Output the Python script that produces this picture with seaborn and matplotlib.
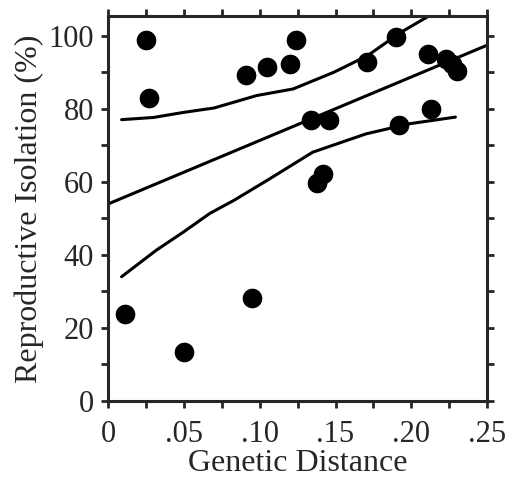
import matplotlib
matplotlib.use("Agg")
import matplotlib.pyplot as plt
from matplotlib.ticker import MultipleLocator, FuncFormatter
import pandas as pd
import seaborn as sns

# observed pairs: genetic distance vs reproductive isolation (%)
gen_dist = [0.011, 0.050, 0.095, 0.025, 0.027, 0.091, 0.105, 0.120, 0.124,
            0.134, 0.146, 0.138, 0.142, 0.171, 0.190, 0.192, 0.211, 0.213,
            0.223, 0.227, 0.230]
repro_iso = [23.8, 13.4, 28.1, 98.9, 82.9, 89.3, 91.5, 92.2, 98.8,
             77.0, 77.0, 59.6, 62.0, 92.9, 99.7, 75.6, 95.1, 80.0,
             93.6, 92.3, 90.2]

# regression line
fit_x = [0.0, 0.25]
fit_y = [53.9, 97.4]

# upper / lower bands (hand-drawn in the original)
upper_x = [0.009, 0.030, 0.050, 0.070, 0.098, 0.122, 0.149, 0.171, 0.193, 0.212]
upper_y = [77.0, 77.6, 79.0, 80.2, 83.6, 85.4, 90.0, 94.5, 100.9, 105.5]
lower_x = [0.009, 0.032, 0.050, 0.067, 0.083, 0.105, 0.135, 0.170, 0.199, 0.229]
lower_y = [34.0, 41.3, 46.3, 51.3, 54.9, 60.4, 68.1, 73.1, 75.9, 77.7]

sns.set_style("ticks")
plt.rcParams["font.family"] = ["Liberation Serif", "DejaVu Serif"]

fig = plt.figure(figsize=(5.14, 4.79), dpi=100)
ax = fig.add_axes([0.210, 0.163, 0.738, 0.803])

for xs, ys in [(fit_x, fit_y), (upper_x, upper_y), (lower_x, lower_y)]:
    sns.lineplot(x=xs, y=ys, sort=False, color="black", linewidth=2.2,
                 estimator=None, ax=ax)

pts = pd.DataFrame({"dist": gen_dist, "iso": repro_iso})
sns.scatterplot(data=pts, x="dist", y="iso", s=200, color="black",
                edgecolor="black", linewidth=0, ax=ax, zorder=3)

ax.set_xlim(0, 0.25)
ax.set_ylim(0, 105.3)
ax.xaxis.set_major_locator(MultipleLocator(0.05))
ax.xaxis.set_minor_locator(MultipleLocator(0.025))
ax.yaxis.set_major_locator(MultipleLocator(20))
ax.yaxis.set_minor_locator(MultipleLocator(10))


def fmt_x(v, _):
    if abs(v) < 1e-9:
        return "0"
    return f"{v:.2f}"[1:]


ax.xaxis.set_major_formatter(FuncFormatter(fmt_x))
ax.tick_params(which="both", direction="out", length=5, width=2,
               top=True, right=True, labelsize=22)
ax.tick_params(axis="x", pad=9)
ax.tick_params(axis="y", pad=5)
for s in ax.spines.values():
    s.set_linewidth(2.2)
    s.set_visible(True)

ax.set_xlabel("Genetic Distance", fontsize=23, labelpad=0)
ax.set_ylabel("Reproductive Isolation (%)", fontsize=23, labelpad=3)

fig.savefig("out.png", dpi=100)
